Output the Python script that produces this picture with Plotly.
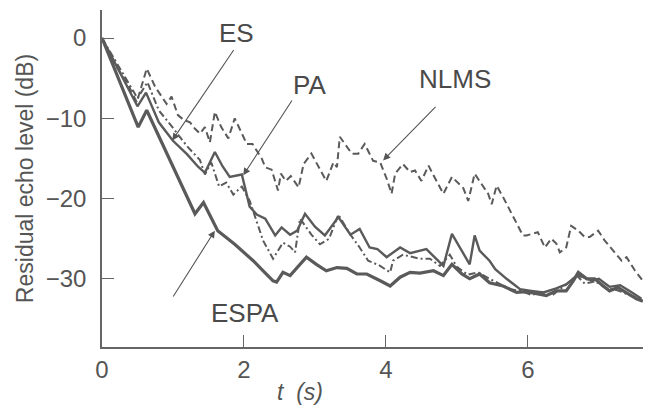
import plotly.graph_objects as go

# ---------------- data ----------------
t_nlms = [0, 0.2, 0.35, 0.49, 0.63, 0.75, 0.91, 0.98, 1.07, 1.15, 1.24, 1.31, 1.38, 1.45, 1.52,
          1.59, 1.68, 1.78, 1.87, 1.99, 2.04, 2.12, 2.25, 2.30, 2.39, 2.48, 2.52, 2.59, 2.66,
          2.77, 2.84, 2.95, 3.04, 3.16, 3.26, 3.31, 3.35, 3.44, 3.52, 3.61, 3.70, 3.82, 3.92,
          4.01, 4.08, 4.13, 4.24, 4.34, 4.41, 4.50, 4.60, 4.67, 4.81, 4.93, 5.02, 5.09, 5.16,
          5.25, 5.34, 5.44, 5.49, 5.56, 5.65, 5.82, 5.93, 5.98, 6.07, 6.14, 6.24, 6.33, 6.40,
          6.45, 6.54, 6.61, 6.71, 6.80, 6.87, 6.99, 7.08, 7.20, 7.32, 7.39, 7.51, 7.62]
db_nlms = [0, -3.5, -5.5, -8.0, -3.8, -6.1, -8.2, -7.3, -9.6, -10.2, -10.5, -11.3, -11.9, -11.1, -13.0,
           -9.2, -11.1, -12.5, -10.0, -12.3, -13.2, -13.2, -15.0, -16.1, -16.4, -19.0, -16.9, -17.8, -17.2,
           -18.6, -15.7, -14.4, -15.9, -17.8, -15.5, -16.1, -12.3, -13.5, -14.4, -14.4, -13.2, -15.3, -15.5,
           -17.5, -19.4, -16.9, -15.7, -16.7, -16.5, -17.8, -15.9, -17.1, -19.4, -17.3, -18.1, -18.7, -20.3,
           -16.9, -18.1, -19.4, -20.7, -18.4, -19.8, -22.8, -24.6, -24.6, -24.4, -24.2, -26.1, -25.0, -25.6,
           -26.7, -26.1, -23.4, -24.0, -24.8, -24.8, -24.0, -25.2, -26.5, -27.75, -27.3, -29.0, -30.25]

t_pa = [0, 0.5, 0.64, 0.8, 1.0, 1.2, 1.38, 1.45, 1.54, 1.65, 1.75, 1.85, 1.97, 2.08, 2.27, 2.41,
        2.55, 2.65, 2.72, 2.79, 2.95, 3.07, 3.2, 3.33, 3.5, 3.63, 3.75, 3.9, 4.06, 4.10, 4.24,
        4.48, 4.62, 4.76, 4.9, 5.0, 5.15, 5.3, 5.46, 5.6, 5.75, 5.9, 6.05, 6.22, 6.35, 6.54,
        6.69, 6.8, 6.95, 7.1, 7.25, 7.4, 7.6]
db_pa = [0, -7.5, -5.5, -9.0, -11.2, -13.5, -15.2, -17.0, -15.5, -18.5, -18.0, -19.5, -18.5, -20.25, -25.25, -27.5,
         -25.5, -26.0, -26.7, -22.5, -24.5, -25.7, -25.0, -22.0, -24.5, -26.1, -27.75, -28.3, -29.2, -27.75, -27.0,
         -27.5, -27.5, -28.4, -27.0, -28.5, -29.5, -29.2, -30.0, -30.6, -31.3, -31.5, -32.0, -31.7, -32.0, -30.7,
         -29.6, -30.6, -30.3, -31.2, -31.4, -31.9, -32.6]

t_es = [0, 0.5, 0.62, 0.8, 1.0, 1.2, 1.35, 1.45, 1.59, 1.7, 1.8, 1.97, 2.08, 2.18, 2.30, 2.44, 2.53,
        2.65, 2.75, 2.86, 3.0, 3.14, 3.33, 3.5, 3.63, 3.77, 3.88, 4.01, 4.20, 4.34, 4.57, 4.81,
        4.93, 5.18, 5.25, 5.32, 5.46, 5.54, 5.70, 5.89, 6.05, 6.22, 6.4, 6.54, 6.69, 6.78, 6.9,
        7.0, 7.15, 7.3, 7.45, 7.6]
db_es = [0, -8.5, -6.8, -10.5, -12.8, -14.5, -16.0, -16.8, -14.2, -16.0, -17.3, -17.0, -21.0, -22.0, -22.5, -24.6, -23.6,
         -24.5, -24.0, -21.9, -23.5, -24.6, -22.3, -24.5, -23.8, -26.1, -26.3, -27.3, -26.1, -26.8, -26.3, -28.4,
         -24.4, -28.2, -24.6, -26.5, -27.75, -28.8, -30.0, -31.3, -31.5, -31.7, -31.2, -30.7, -29.6, -29.8, -30.2,
         -30.0, -31.0, -30.8, -31.6, -32.5]

t_espa = [0, 0.51, 0.63, 1.31, 1.43, 1.63, 1.87, 2.13, 2.27, 2.41, 2.46, 2.55, 2.65, 2.79, 2.88, 3.02,
          3.16, 3.31, 3.45, 3.59, 3.73, 3.92, 4.06, 4.20, 4.34, 4.48, 4.67, 4.81, 4.93, 5.07, 5.18,
          5.32, 5.46, 5.65, 5.84, 5.98, 6.12, 6.26, 6.4, 6.54, 6.64, 6.71, 6.83, 6.94, 7.05, 7.15,
          7.27, 7.4, 7.53, 7.62]
db_espa = [0, -11.1, -9.0, -21.9, -20.5, -24.0, -25.7, -27.75, -29.0, -30.25, -30.4, -29.2, -29.6, -28.2, -27.3, -28.2,
           -29.0, -28.6, -28.7, -29.4, -29.4, -30.25, -30.9, -29.8, -29.2, -29.3, -29.0, -29.6, -28.2, -29.4, -30.0,
           -29.4, -30.5, -30.9, -31.7, -31.6, -31.9, -32.1, -31.5, -31.5, -30.25, -29.2, -30.0, -30.0, -30.8, -31.5,
           -31.1, -31.8, -32.5, -32.8]

x_ticks = [0, 2, 4, 6]
y_ticks = [0, -10, -20, -30]

# label / arrow anchors: (label x, label y, arrow tip x, tip y, tail x, tail y)
labels = {
    "ES":   (1.90, 0.6, 0.99, -12.75, 1.87, -1.3),
    "PA":   (2.93, -5.9, 1.99, -17.1, 2.69, -7.6),
    "NLMS": (4.97, -5.1, 3.96, -15.25, 4.72, -8.4),
    "ESPA": (2.01, -34.3, 1.59, -24.0, 0.99, -32.4),
}

INK = "#5a5a5a"
FONT = "Liberation Sans, Arial, Helvetica, sans-serif"

fig = go.Figure()
fig.add_trace(go.Scatter(x=t_nlms, y=db_nlms, mode="lines", name="NLMS",
                         line=dict(color=INK, width=2, dash="7px,4px")))
fig.add_trace(go.Scatter(x=t_pa, y=db_pa, mode="lines", name="PA",
                         line=dict(color=INK, width=2, dash="7px,3px,2px,3px")))
fig.add_trace(go.Scatter(x=t_es, y=db_es, mode="lines", name="ES",
                         line=dict(color=INK, width=2.4)))
fig.add_trace(go.Scatter(x=t_espa, y=db_espa, mode="lines", name="ESPA",
                         line=dict(color=INK, width=3.2)))

for txt, (lx, ly, tx, ty, ax, ay) in labels.items():
    fig.add_annotation(x=lx, y=ly, text=txt, showarrow=False,
                       font=dict(family=FONT, size=26, color="#4a4a4a"))
    fig.add_annotation(x=tx, y=ty, ax=ax, ay=ay, axref="x", ayref="y", text="",
                       showarrow=True, arrowhead=2, arrowsize=1.3, arrowwidth=1.1,
                       arrowcolor="#555")

# x-axis title placed like the original (left of centre)
fig.add_annotation(xref="paper", yref="paper", x=0.365, y=-0.135, yanchor="middle",
                   text="<i>t  (s)</i>", showarrow=False,
                   font=dict(family=FONT, size=23, color="#555"))

fig.update_layout(
    width=643, height=400,
    margin=dict(l=94, r=6, t=2, b=61, autoexpand=False),
    paper_bgcolor="white", plot_bgcolor="white",
    showlegend=False,
    font=dict(family=FONT, color="#555"),
    xaxis=dict(range=[0, 7.65], tickvals=x_ticks, ticktext=[str(v) for v in x_ticks],
               automargin=False,
               ticks="inside", ticklen=12, tickcolor="#666", tickwidth=1.3,
               showline=True, linecolor="#666", linewidth=1.5, showgrid=False, zeroline=False,
               tickfont=dict(size=24, color="#555")),
    yaxis=dict(range=[-38.5, 3.5], tickvals=y_ticks,
               ticktext=["0" if v == 0 else "\u2212" + str(-v) for v in y_ticks],
               automargin=False,
               ticks="inside", ticklen=12, tickcolor="#666", tickwidth=1.3,
               showline=True, linecolor="#666", linewidth=1.5, showgrid=False, zeroline=False,
               tickfont=dict(size=24, color="#555"), ticklabelstandoff=9,
               title=dict(text="Residual echo level (dB)", font=dict(size=23, color="#555"), standoff=6)),
)

fig.write_html("out.html")
